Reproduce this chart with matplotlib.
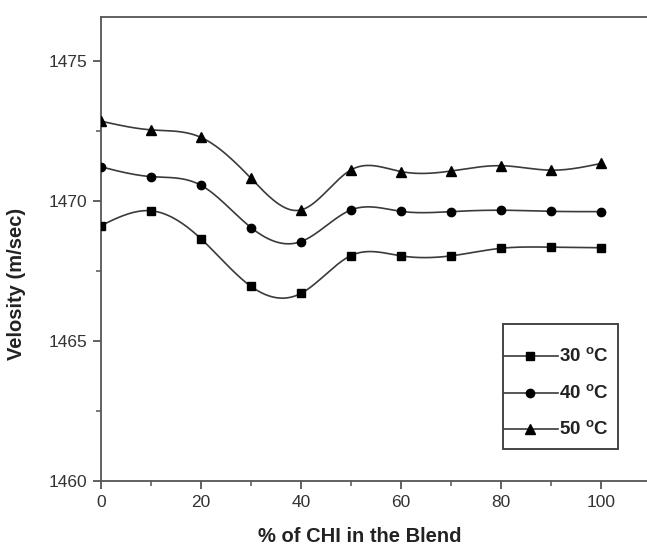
import numpy as np
import matplotlib
matplotlib.use("Agg")
import matplotlib.pyplot as plt
from matplotlib.lines import Line2D
from matplotlib.patches import Rectangle

# ---- data ----
chi_percent = [0, 10, 20, 30, 40, 50, 60, 70, 80, 90, 100]
vel_30 = [1469.12, 1469.65, 1468.65, 1466.95, 1466.70, 1468.05, 1468.04, 1468.04, 1468.31, 1468.35, 1468.33]
vel_40 = [1471.22, 1470.87, 1470.56, 1469.05, 1468.55, 1469.68, 1469.63, 1469.62, 1469.67, 1469.63, 1469.62]
vel_50 = [1472.85, 1472.54, 1472.27, 1470.81, 1469.68, 1471.11, 1471.05, 1471.07, 1471.26, 1471.10, 1471.34]
series_labels = ["30", "40", "50"]
x_ticks = [0, 20, 40, 60, 80, 100]
y_ticks = [1460, 1465, 1470, 1475]

plt.rcParams['font.family'] = ['Liberation Sans', 'DejaVu Sans']
plt.rcParams['mathtext.default'] = 'regular'


def natural_spline(x, y, n=500):
    x = np.asarray(x, float)
    y = np.asarray(y, float)
    N = len(x)
    h = np.diff(x)
    A = np.zeros((N, N))
    b = np.zeros(N)
    A[0, 0] = 1
    A[-1, -1] = 1
    for i in range(1, N - 1):
        A[i, i - 1] = h[i - 1]
        A[i, i] = 2 * (h[i - 1] + h[i])
        A[i, i + 1] = h[i]
        b[i] = 6 * ((y[i + 1] - y[i]) / h[i] - (y[i] - y[i - 1]) / h[i - 1])
    M = np.linalg.solve(A, b)
    xs = np.linspace(x[0], x[-1], n)
    idx = np.clip(np.searchsorted(x, xs) - 1, 0, N - 2)
    x0, x1 = x[idx], x[idx + 1]
    hh = x1 - x0
    t0 = x1 - xs
    t1 = xs - x0
    ys = (M[idx] * t0 ** 3 / (6 * hh) + M[idx + 1] * t1 ** 3 / (6 * hh)
          + (y[idx] / hh - M[idx] * hh / 6) * t0
          + (y[idx + 1] / hh - M[idx + 1] * hh / 6) * t1)
    return xs, ys


W, H = 647, 545
fig = plt.figure(figsize=(W / 100, H / 100), dpi=100)
ax = fig.add_axes([101 / W, (H - 481) / H, 550 / W, (481 - 17) / H])

line_col = '#3a3a3a'
spine_col = '#555555'
markers = ['s', 'o', '^']
msizes = [5.5, 6, 6.5]
for vals, m, ms in zip([vel_30, vel_40, vel_50], markers, msizes):
    xs, ys = natural_spline(chi_percent, vals)
    ax.plot(xs, ys, color=line_col, lw=1.2, zorder=2)
    ax.plot(chi_percent, vals, linestyle='none', marker=m, ms=ms,
            color='black', zorder=3)

ax.set_xlim(0, 110)
ax.set_ylim(1460, 1476.57)
ax.set_xticks(x_ticks)
ax.set_yticks(y_ticks)
ax.set_xticks([10, 30, 50, 70, 90, 110], minor=True)
ax.set_yticks([1462.5, 1467.5, 1472.5], minor=True)
ax.tick_params(which='major', direction='out', length=6, width=1.3,
               color=spine_col, labelsize=12.5, labelcolor='#333333', pad=4)
ax.tick_params(which='minor', direction='out', length=3.5, width=1.1, color=spine_col)
for s in ax.spines.values():
    s.set_color(spine_col)
    s.set_linewidth(1.3)

ax.set_ylabel('Velosity (m/sec)', fontsize=14.5, fontweight='bold', color='#222222')
ax.yaxis.set_label_coords(-0.137, 0.425)
ax.set_xlabel('% of CHI in the Blend', fontsize=14.5, fontweight='bold', color='#222222')
ax.xaxis.set_label_coords(0.47, -0.1)

# ---- legend (drawn in figure pixel-fraction coordinates) ----
def fx(px):
    return px / W

def fy(py):
    return (H - py) / H

box = Rectangle((fx(502.5), fy(449)), fx(618) - fx(502.5), fy(324) - fy(449),
                transform=fig.transFigure, fill=False, edgecolor='#444444',
                linewidth=1.4, zorder=5)
fig.add_artist(box)
for lab, m, ms, py in zip(series_labels, markers, msizes, [356, 392.5, 429]):
    fig.add_artist(Line2D([fx(502.5), fx(558)], [fy(py), fy(py)],
                          transform=fig.transFigure, color=line_col, lw=1.2))
    fig.add_artist(Line2D([fx(530)], [fy(py)], transform=fig.transFigure,
                          marker=m, ms=ms, color='black', linestyle='none'))
    fig.text(fx(559), fy(py), lab + r' $^{o}$C', fontsize=13.5, fontweight='bold',
             va='center', ha='left', color='#222222')

fig.savefig('out.png', dpi=100)
